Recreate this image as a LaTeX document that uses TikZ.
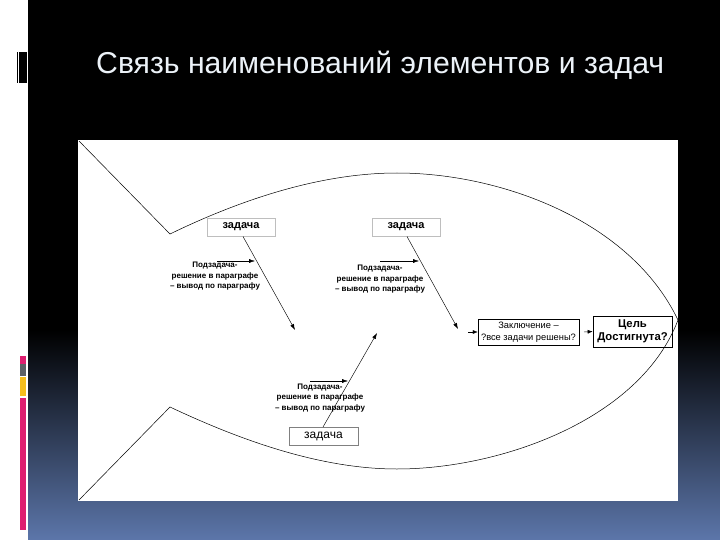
\documentclass[tikz,border=0pt]{standalone}
\usepackage{fontspec}
\setmainfont{Liberation Sans}
\usetikzlibrary{arrows.meta}
\definecolor{bgblue}{RGB}{92,118,170}
\definecolor{titlecol}{RGB}{236,242,248}
\definecolor{barpink}{RGB}{222,30,112}
\definecolor{bargrey}{RGB}{92,96,102}
\definecolor{baryellow}{RGB}{245,190,30}
\definecolor{boxgrey}{RGB}{190,190,190}
\tikzset{
  outline/.style={draw=black, line width=0.5pt},
  taskbox/.style={draw=boxgrey, line width=0.6pt, minimum width=68pt, minimum height=18pt, inner sep=0pt,
    font=\bfseries\fontsize{11}{13}\selectfont},
  taskboxb/.style={draw=gray, line width=0.6pt, minimum width=69pt, minimum height=18pt, inner sep=0pt,
    font=\fontsize{12}{14}\selectfont},
  subtext/.style={align=center, inner sep=0pt, font=\bfseries\fontsize{8}{10.5}\selectfont},
  arr/.style={draw=black, line width=0.45pt, -{Latex[length=6pt,width=4pt]}},
  tip/.style={draw=black, line width=0.45pt, -{Latex[length=5pt,width=4pt]}},
}
\begin{document}
\begin{tikzpicture}[x=1pt,y=-1pt]
\useasboundingbox (0,0) rectangle (720,540);
% background
\fill[black] (0,0) rectangle (720,540);
\shade[top color=black, bottom color=bgblue] (28,330) rectangle (720,540);
\fill[white] (0,0) rectangle (28,540);
% left decorations
\fill[black] (16.5,52) rectangle (17.5,83);
\fill[black] (19,52) rectangle (26.5,83);
\fill[barpink] (20,356) rectangle (26,364);
\fill[bargrey] (20,364) rectangle (26,375.5);
\fill[baryellow] (20,377) rectangle (26,396);
\fill[barpink] (20,398) rectangle (26,530);
% title
\node[anchor=base west, inner sep=0pt, text=titlecol, font=\fontsize{30.2}{34}\selectfont] (title) at (96,74) {Связь наименований элементов и задач};
% white panel
\fill[white] (78,140) rectangle (678,501);
% fish outline
\draw[outline] (79,141) -- (170,234)
  .. controls (240,200) and (320,173) .. (397,173)
  .. controls (500,173) and (630,220) .. (678,320)
  .. controls (640,420) and (500,469) .. (397,469)
  .. controls (320,469) and (240,440) .. (170,407)
  -- (79,500);
% task boxes
\node[taskbox] (t1) at (241,227) {задача};
\node[taskbox] (t2) at (406,227) {задача};
\node[taskboxb] (t3) at (323.5,436) {задача};
\node[draw=black, line width=0.5pt, minimum width=101pt, minimum height=26pt, inner sep=0pt, align=center,
  font=\fontsize{9.3}{11.5}\selectfont] (zakl) at (528.5,332) {Заключение –\\?все задачи решены?};
\node[draw=black, line width=0.7pt, minimum width=79pt, minimum height=31pt, inner sep=0pt, align=center,
  font=\bfseries\fontsize{11.3}{13.5}\selectfont] (goal) at (632.5,331.5) {Цель\\Достигнута?};
% subtask texts
\node[subtext] (s1) at (215,276.5) {Подзадача-\\решение в параграфе\\– вывод по параграфу};
\node[subtext] (s2) at (380,279.5) {Подзадача-\\решение в параграфе\\– вывод по параграфу};
\node[subtext] (s3) at (320,398) {Подзадача-\\решение в параграфе\\– вывод по параграфу};
% arrow coordinates
\coordinate (b1) at (243,236.5);
\coordinate (e1) at (295,330);
\coordinate (b2) at (407,236.5);
\coordinate (e2) at (458,329);
\coordinate (b3) at (323,427);
\coordinate (e3) at (377,333);
\coordinate (h1a) at (217,261);
\coordinate (h1b) at (255,261);
\coordinate (h2a) at (380,261);
\coordinate (h2b) at (419,261);
\coordinate (h3a) at (310,381);
\coordinate (h3b) at (348,381);
\coordinate (zt) at (468,332);
\coordinate (gt) at (584,332);
% arrows
\draw[arr] (b1) -- (e1);
\draw[arr] (b2) -- (e2);
\draw[arr] (b3) -- (e3);
\draw[arr] (h1a) -- (h1b);
\draw[arr] (h2a) -- (h2b);
\draw[arr] (h3a) -- (h3b);
\draw[tip] (zt) -- (zakl.west);
\draw[tip] (gt) -- (goal.west);
\end{tikzpicture}
\end{document}
